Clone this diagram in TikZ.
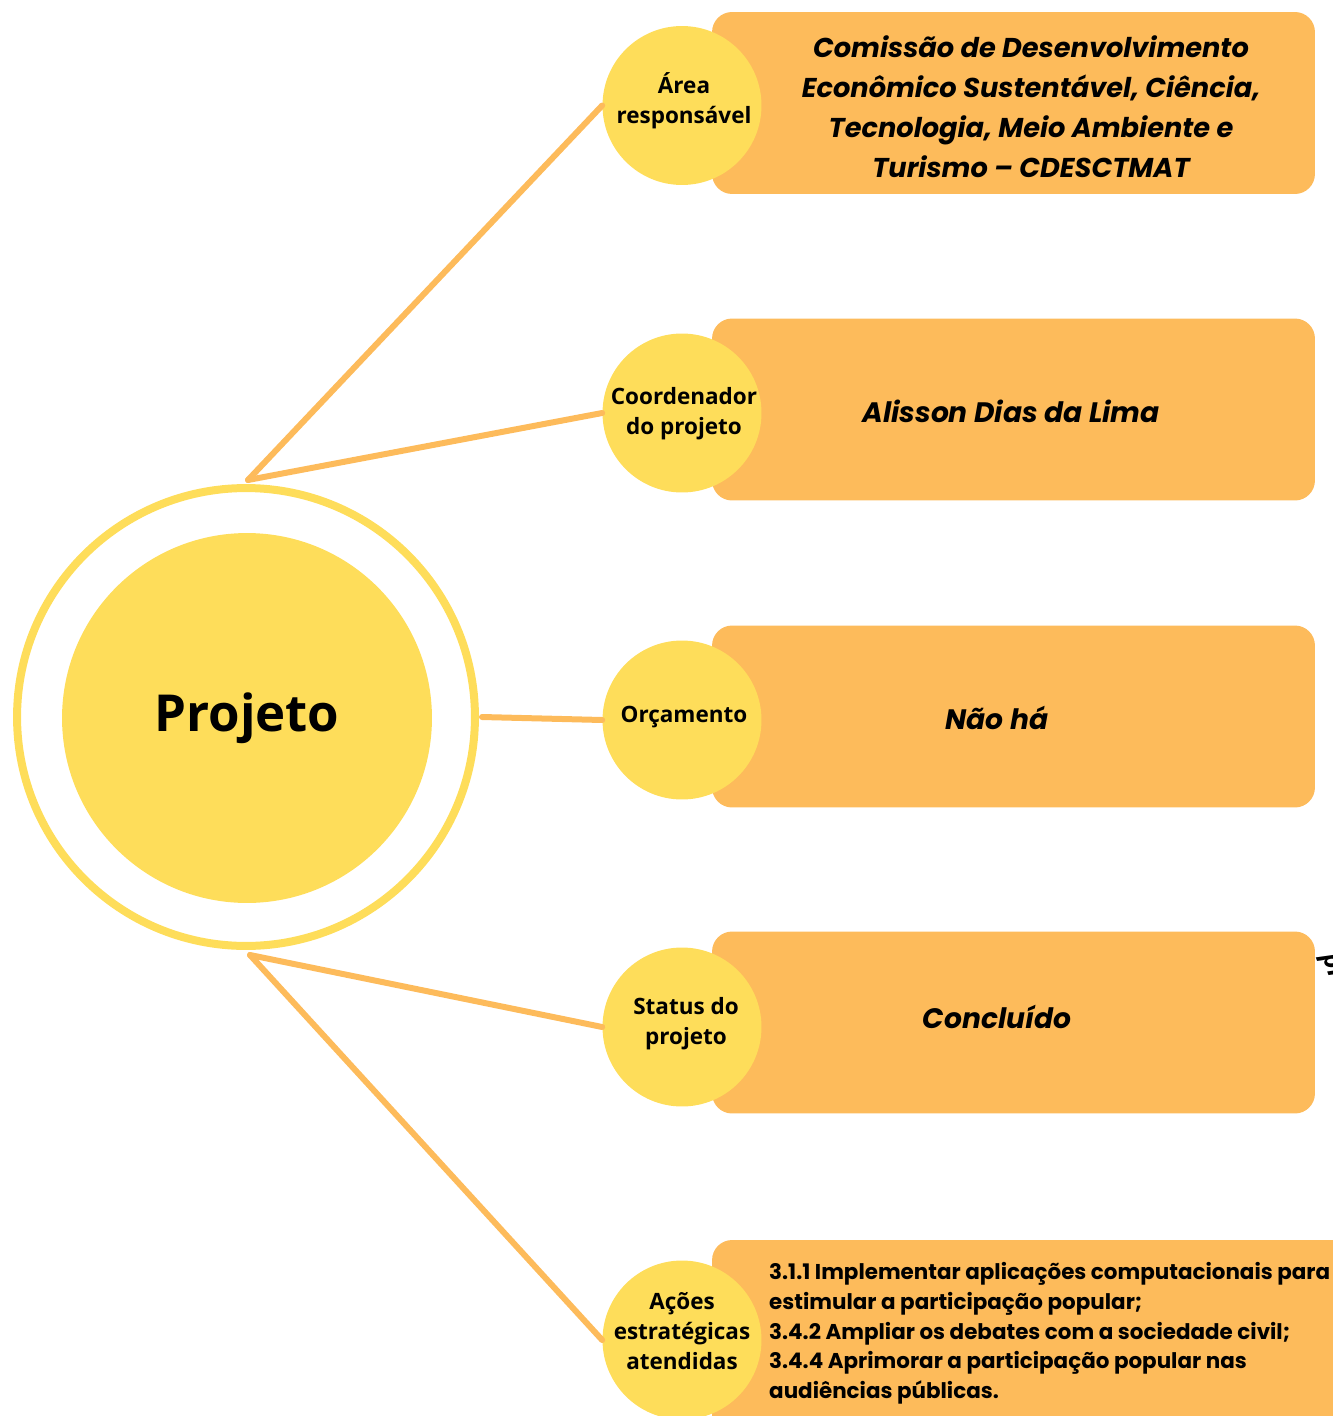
\documentclass[tikz,border=0pt]{standalone}
\usepackage{fontspec}
\setmainfont{Open Sans}
\newfontfamily\boxfont{Poppins}
\usetikzlibrary{positioning}

\definecolor{sunyellow}{HTML}{FEDD5A}
\definecolor{boxorange}{HTML}{FDBB5B}

\tikzset{
  topic/.style={circle, fill=sunyellow, minimum size=3.18cm, inner sep=0pt,
    align=center, font=\bfseries\fontsize{12.8}{17}\selectfont},
  infobox/.style={rectangle, fill=boxorange, rounded corners=0.4cm,
    minimum width=12.06cm, minimum height=3.64cm},
  boxtext/.style={align=center, font=\boxfont\bfseries\itshape\fontsize{16}{22.7}\selectfont},
  link/.style={draw=boxorange, line width=0.12cm, line cap=round}
}

\begin{document}
\begin{tikzpicture}[x=0.02cm, y=-0.02cm]
  \useasboundingbox (0,0) rectangle (1332,1416);

  % boxes
  \node [infobox] (box1) at (1013.5, 103) {};
  \node [infobox] (box2) at (1013.5, 409.5) {};
  \node [infobox] (box3) at (1013.5, 716.5) {};
  \node [infobox] (box4) at (1013.5, 1022.5) {};
  \node [infobox, minimum width=12.8cm, minimum height=4.2cm] (box5) at (1032, 1345) {};

  % cut-off text at the right edge
  \node [rotate=-70, font=\rmfamily\bfseries\itshape\fontsize{15}{15}\selectfont] (edgetext) at (1331, 968) {pr};

  % hub
  \node [circle, draw=sunyellow, line width=0.16cm, minimum size=9.16cm] (ring) at (246, 717) {};
  \node [circle, fill=sunyellow, minimum size=7.4cm, font=\bfseries\fontsize{29}{34}\selectfont] (hub) at (247, 718) {Projeto};
  \coordinate (hubtop) at (248, 480);
  \coordinate (hubright) at (482, 717);
  \coordinate (hubbottom) at (250, 955);

  % topics
  \node [topic] (area) at (682, 105.5) {};
  \node [topic] (coord) at (682, 413) {};
  \node [topic] (budget) at (682, 720) {};
  \node [topic] (status) at (682, 1027) {};
  \node [topic] (actions) at (682, 1340) {};
  \node [topic, fill=none] (arealabel) at (684, 101) {Área\\responsável};
  \node [topic, fill=none] (coordlabel) at (684, 414) {Coordenador\\do projeto};
  \node [topic, fill=none] (budgetlabel) at (684, 717) {Orçamento};
  \node [topic, fill=none] (statuslabel) at (686, 1024) {Status do\\projeto};
  \node [topic, fill=none] (actionslabel) at (682, 1331) {Ações\\estratégicas\\atendidas};

  % texts in the boxes
  \node [boxtext, font=\boxfont\bfseries\itshape\fontsize{15.5}{22.7}\selectfont] (areatext) at (1031, 107) {Comissão de Desenvolvimento\\Econômico Sustentável, Ciência,\\Tecnologia, Meio Ambiente e\\Turismo – CDESCTMAT};
  \node [boxtext] (coordtext) at (1011, 411) {Alisson Dias da Lima};
  \node [boxtext] (budgettext) at (997, 718) {Não há};
  \node [boxtext] (statustext) at (997, 1017) {Concluído};
  \node [anchor=north west, align=left, font=\boxfont\bfseries\fontsize{12.2}{17}\selectfont] (actionstext) at (763, 1256)
    {3.1.1 Implementar aplicações computacionais para\\estimular a participação popular;\\3.4.2 Ampliar os debates com a sociedade civil;\\3.4.4 Aprimorar a participação popular nas\\audiências públicas.};

  % connectors
  \draw [link] (hubtop) -- (area.west);
  \draw [link] (hubtop) -- (coord.west);
  \draw [link] (hubright) -- (budget.west);
  \draw [link] (hubbottom) -- (status.west);
  \draw [link] (hubbottom) -- (actions.west);
\end{tikzpicture}
\end{document}
